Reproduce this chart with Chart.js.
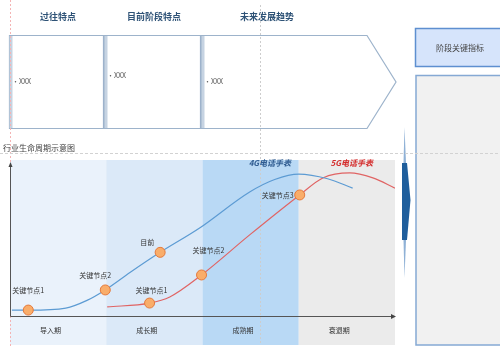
<!DOCTYPE html>
<html lang="zh">
<head>
<meta charset="UTF-8">
<title>行业生命周期示意图</title>
<script src="https://cdn.jsdelivr.net/npm/chart.js"></script>
<style>
  html, body { margin: 0; padding: 0; background: #fff; }
  canvas { display: block; }
</style>
</head>
<body>
<canvas id="lifeCycle" width="500" height="348"></canvas>
<script>
    // Phases along the x axis (one unit per phase)
    const phases = ['导入期', '成长期', '成熟期', '衰退期'];
    const phaseColors = ['#eaf2fb', '#dbe9f8', '#b9d9f5', '#ebebeb'];

    // 4G curve
    const curve4gX = [0.02, 0.2, 0.58, 0.8, 0.99, 1.25, 1.56, 1.97, 2.49, 2.75, 3.0, 3.3, 3.56];
    const curve4gY = [3.8, 3.8, 5.1, 10, 16.7, 28, 40.8, 56.4, 79.5, 87.5, 91, 88, 82];
    // 5G curve
    const curve5gX = [1.01, 1.45, 1.66, 1.99, 2.49, 3.01, 3.25, 3.53, 3.77, 4.0];
    const curve5gY = [5.8, 8.3, 12.2, 26.3, 52, 77.6, 88.5, 91.7, 88.5, 82];

    // Key nodes on each curve
    const nodes4gX = [0.19, 0.99, 1.56];
    const nodes4gY = [3.8, 16.7, 40.8];
    const nodes4gLabels = ['关键节点1', '关键节点2', '目前'];
    const nodes5gX = [1.45, 1.99, 3.01];
    const nodes5gY = [8.3, 26.3, 77.6];
    const nodes5gLabels = ['关键节点1', '关键节点2', '关键节点3'];

    const seriesNames = ['4G电话手表', '5G电话手表'];
    const seriesNameX = [2.7, 3.55];

    // Top row headings and notes
    const stageHeads = ['过往特点', '目前阶段特点', '未来发展趋势'];
    const stageNotes = ['XXX', 'XXX', 'XXX'];
    const sideHead = '阶段关键指标';
    const chartTitle = '行业生命周期示意图';

    const FONT = '"Noto Sans CJK SC", "Noto Sans", sans-serif';
    const toPoints = (xs, ys) => xs.map((x, i) => ({ x: x, y: ys[i] }));

    // Everything that is not a data mark: boxes, bands, axes, texts
    const framePlugin = {
        id: 'frame',
        beforeDatasetsDraw(chart) {
            const ctx = chart.ctx;
            const area = chart.chartArea;
            const xs = chart.scales.x;
            ctx.save();

            // phase bands
            phases.forEach((p, i) => {
                const x0 = xs.getPixelForValue(i);
                const x1 = xs.getPixelForValue(i + 1);
                ctx.fillStyle = phaseColors[i];
                ctx.fillRect(x0, area.top, x1 - x0, 345 - area.top);
            });

            // phase names
            ctx.font = '7px ' + FONT;
            ctx.fillStyle = '#333';
            ctx.textAlign = 'center';
            ctx.textBaseline = 'middle';
            phases.forEach((p, i) => {
                ctx.fillText(p, xs.getPixelForValue(i + 0.42), 330);
            });

            // chart title
            ctx.font = '8px ' + FONT;
            ctx.fillStyle = '#444';
            ctx.textAlign = 'left';
            ctx.fillText(chartTitle, 3, 148);

            // top boxes
            const boxes = [[9, 103], [104, 200], [201, 367]];
            const top = 35.5, bottom = 128.5;
            boxes.forEach(([x0, x1], i) => {
                ctx.beginPath();
                if (i < 2) {
                    ctx.rect(x0 + 0.5, top, x1 - x0, bottom - top);
                } else {
                    ctx.moveTo(x0 + 0.5, top);
                    ctx.lineTo(x1, top);
                    ctx.lineTo(396, 82);
                    ctx.lineTo(x1, bottom);
                    ctx.lineTo(x0 + 0.5, bottom);
                    ctx.closePath();
                }
                ctx.fillStyle = '#fff';
                ctx.fill();
                ctx.strokeStyle = '#9db3cb';
                ctx.lineWidth = 1.2;
                ctx.stroke();
                ctx.fillStyle = '#c6d3e2';
                ctx.fillRect(x0 + 0.5, top + 0.5, 3, bottom - top - 1);

                ctx.font = 'bold 9px ' + FONT;
                ctx.fillStyle = '#2f5377';
                ctx.textAlign = 'center';
                ctx.fillText(stageHeads[i], i < 2 ? (x0 + x1) / 2 + 2 : 267, 17);

                ctx.font = '7px ' + FONT;
                ctx.fillStyle = '#555';
                ctx.textAlign = 'left';
                ctx.fillText('•' + stageNotes[i], x0 + 3, i === 1 ? 75 : 81);
            });

            // side panel
            ctx.fillStyle = '#d6e4fb';
            ctx.fillRect(415.5, 28.5, 90, 38);
            ctx.strokeStyle = '#5e8fd0';
            ctx.lineWidth = 1.5;
            ctx.strokeRect(415.5, 28.5, 90, 38);
            ctx.font = '8px ' + FONT;
            ctx.fillStyle = '#444';
            ctx.textAlign = 'center';
            ctx.fillText(sideHead, 460, 48);

            ctx.fillStyle = '#f1f1f1';
            ctx.fillRect(416, 75.5, 90, 269.5);
            ctx.strokeStyle = '#85a9d4';
            ctx.strokeRect(416, 75.5, 90, 269.5);

            // arrow pointing to side panel
            ctx.fillStyle = '#8fb1d6';
            ctx.beginPath();
            ctx.moveTo(404.5, 127);
            ctx.lineTo(406, 163);
            ctx.lineTo(406, 240);
            ctx.lineTo(404.5, 278);
            ctx.lineTo(403.5, 240);
            ctx.lineTo(403.5, 163);
            ctx.closePath();
            ctx.fill();
            ctx.fillStyle = '#1f5e9c';
            ctx.beginPath();
            ctx.moveTo(402, 163);
            ctx.lineTo(407, 163);
            ctx.lineTo(410.5, 200);
            ctx.lineTo(407, 240);
            ctx.lineTo(402, 240);
            ctx.closePath();
            ctx.fill();

            // dotted guides, drawn over the boxes
            ctx.setLineDash([2, 2]);
            ctx.lineWidth = 1;
            ctx.strokeStyle = '#f4b4b4';
            ctx.beginPath(); ctx.moveTo(10.5, 0); ctx.lineTo(10.5, 348); ctx.stroke();
            ctx.strokeStyle = '#cdcdcd';
            ctx.beginPath(); ctx.moveTo(260.5, 5); ctx.lineTo(260.5, 345); ctx.stroke();
            ctx.setLineDash([3, 2]);
            ctx.strokeStyle = '#d2d2d2';
            ctx.beginPath(); ctx.moveTo(0, 153.5); ctx.lineTo(500, 153.5); ctx.stroke();
            ctx.setLineDash([]);

            // axes with arrow heads
            const axisY = area.bottom + 0.5;
            ctx.strokeStyle = '#555';
            ctx.fillStyle = '#444';
            ctx.lineWidth = 1;
            ctx.beginPath();
            ctx.moveTo(area.left + 0.5, area.top + 5);
            ctx.lineTo(area.left + 0.5, axisY);
            ctx.lineTo(area.right - 2, axisY);
            ctx.stroke();
            ctx.beginPath();
            ctx.moveTo(area.left + 0.5, area.top + 2);
            ctx.lineTo(area.left - 1.5, area.top + 7);
            ctx.lineTo(area.left + 2.5, area.top + 7);
            ctx.fill();
            ctx.beginPath();
            ctx.moveTo(area.right + 1, axisY);
            ctx.lineTo(area.right - 4, axisY - 2.5);
            ctx.lineTo(area.right - 4, axisY + 2.5);
            ctx.fill();

            ctx.restore();
        },
        afterDatasetsDraw(chart) {
            const ctx = chart.ctx;
            const xs = chart.scales.x;
            const ys = chart.scales.y;
            ctx.save();
            ctx.textBaseline = 'middle';

            // node labels
            ctx.font = '7px ' + FONT;
            ctx.fillStyle = '#333';
            const drawLabels = (nx, ny, labels, placement) => {
                nx.forEach((x, i) => {
                    const px = xs.getPixelForValue(x);
                    const py = ys.getPixelForValue(ny[i]);
                    const [dx, dy, align] = placement[i];
                    ctx.textAlign = align;
                    ctx.fillText(labels[i], px + dx, py + dy);
                });
            };
            drawLabels(nodes4gX, nodes4gY, nodes4gLabels, [[0, -20, 'center'], [-10, -15, 'center'], [-13, -10, 'center']]);
            drawLabels(nodes5gX, nodes5gY, nodes5gLabels, [[2, -13, 'center'], [7, -25, 'center'], [-6, 0, 'right']]);

            // series names
            ctx.font = 'italic bold 8px ' + FONT;
            ctx.textAlign = 'center';
            ['#2f5c91', '#d42b2b'].forEach((c, i) => {
                ctx.fillStyle = c;
                ctx.fillText(seriesNames[i], xs.getPixelForValue(seriesNameX[i]), chart.chartArea.top + 3);
            });
            ctx.restore();
        }
    };

    const nodeStyle = {
        type: 'scatter',
        pointRadius: 5,
        pointHoverRadius: 5,
        pointBackgroundColor: '#f9ad6a',
        pointBorderColor: '#e57a3c',
        pointBorderWidth: 1,
        showLine: false
    };

    new Chart(document.getElementById('lifeCycle'), {
        type: 'line',
        data: {
            datasets: [
                Object.assign({ label: seriesNames[0] + '节点', data: toPoints(nodes4gX, nodes4gY) }, nodeStyle),
                Object.assign({ label: seriesNames[1] + '节点', data: toPoints(nodes5gX, nodes5gY) }, nodeStyle),
                {
                    label: seriesNames[0],
                    data: toPoints(curve4gX, curve4gY),
                    borderColor: '#5c9bd3',
                    borderWidth: 1.2,
                    pointRadius: 0,
                    cubicInterpolationMode: 'monotone',
                    fill: false
                },
                {
                    label: seriesNames[1],
                    data: toPoints(curve5gX, curve5gY),
                    borderColor: '#e06464',
                    borderWidth: 1.2,
                    pointRadius: 0,
                    cubicInterpolationMode: 'monotone',
                    fill: false
                }
            ]
        },
        options: {
            responsive: false,
            animation: false,
            layout: { padding: { left: 10, right: 105, top: 160, bottom: 32 } },
            plugins: { legend: { display: false }, tooltip: { enabled: false } },
            scales: {
                x: { type: 'linear', min: 0, max: 4, display: false },
                y: { min: 0, max: 100, display: false }
            }
        },
        plugins: [framePlugin]
    });
</script>
</body>
</html>
